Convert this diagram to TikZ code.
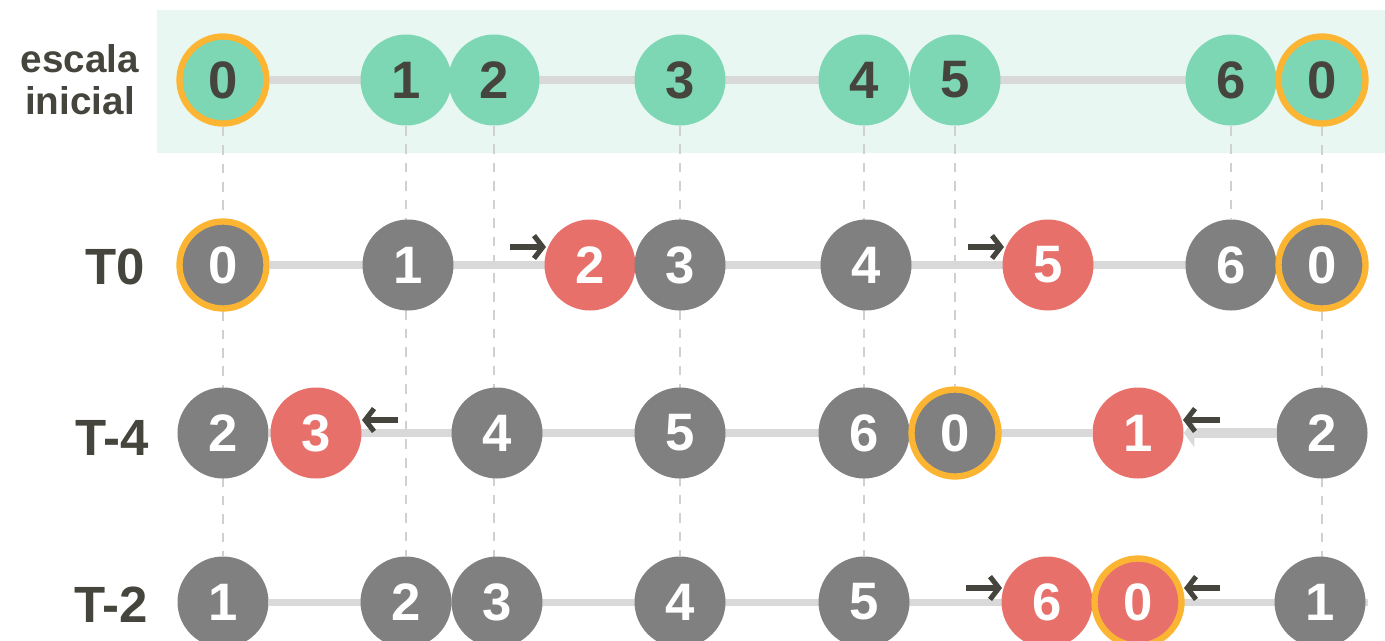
\documentclass[tikz,border=0pt]{standalone}
\usepackage{fontspec}
\setmainfont{Liberation Sans}
\usetikzlibrary{backgrounds,arrows.meta,calc}
\definecolor{mint}{HTML}{7DD6B4}
\definecolor{mintbg}{HTML}{E8F7F1}
\definecolor{grayc}{HTML}{808080}
\definecolor{redc}{HTML}{E8706A}
\definecolor{ringc}{HTML}{FBB532}
\definecolor{linec}{HTML}{D9D9D9}
\definecolor{dashc}{HTML}{D0D0D0}
\definecolor{darkt}{HTML}{45453D}
\begin{document}
\begin{tikzpicture}[x=0.02cm,y=-0.02cm,
  dot/.style={circle, minimum size=1.82cm, inner sep=0pt, font=\fontsize{30}{30}\selectfont\bfseries, text=white},
  mintdot/.style={dot, fill=mint, text=darkt},
  graydot/.style={dot, fill=grayc},
  reddot/.style={dot, fill=redc},
  ring/.style={draw=ringc, line width=3.6pt, minimum size=1.74cm},
  track/.style={draw=linec, line width=4pt},
  thicktrack/.style={draw=linec, line width=6.2pt, -{Triangle[length=6pt,width=16pt]}},
  guide/.style={draw=dashc, line width=1.2pt, dash pattern=on 5.5pt off 5pt},
  arr/.style={draw=darkt, line width=2.9pt, -{Straight Barb[length=5pt,width=13pt]}},
  rowlab/.style={font=\fontsize{29}{29}\selectfont\bfseries, text=darkt, anchor=east},
  toplab/.style={align=center, font=\fontsize{22}{24}\selectfont\bfseries, text=darkt}]
\useasboundingbox (0,0) rectangle (1385,640);
\clip (0,0) rectangle (1385,640);

% labels
\node[toplab] (lab0) at (80,80) {escala\\inicial};
\node[rowlab] (lab1) at (151,267) {T0};
\node[rowlab] (lab2) at (155,438) {T-4};
\node[rowlab] (lab3) at (154,605) {T-2};

% row 0
\node[mintdot, ring] (a0) at (223,80) {0};
\node[mintdot] (a1) at (406,80) {1};
\node[mintdot] (a2) at (494,80) {2};
\node[mintdot] (a3) at (680,80) {3};
\node[mintdot] (a4) at (864,80) {4};
\node[mintdot] (a5) at (955,80) {5};
\node[mintdot] (a6) at (1231,80) {6};
\node[mintdot, ring] (a7) at (1322,80) {0};

% row 1
\node[graydot, ring] (b0) at (223,265) {0};
\node[graydot] (b1) at (408,265) {1};
\node[reddot] (b2) at (590,265) {2};
\node[graydot] (b3) at (680,265) {3};
\node[graydot] (b4) at (866,265) {4};
\node[reddot] (b5) at (1048,265) {5};
\node[graydot] (b6) at (1231,265) {6};
\node[graydot, ring] (b7) at (1322,265) {0};

% row 2
\node[graydot] (c0) at (223,433) {2};
\node[reddot] (c1) at (316,433) {3};
\node[graydot] (c2) at (497,433) {4};
\node[graydot] (c3) at (680,433) {5};
\node[graydot] (c4) at (864,433) {6};
\node[graydot, ring] (c5) at (955,433) {0};
\node[reddot] (c6) at (1138,433) {1};
\node[graydot] (c7) at (1322,433) {2};

% row 3
\node[graydot] (d0) at (223,602) {1};
\node[graydot] (d1) at (406,602) {2};
\node[graydot] (d2) at (497,602) {3};
\node[graydot] (d3) at (680,602) {4};
\node[graydot] (d4) at (864,602) {5};
\node[reddot] (d5) at (1047,602) {6};
\node[reddot, ring] (d6) at (1138,602) {0};
\node[graydot] (d7) at (1320,602) {1};
\coordinate (dend) at (1368,602);

% arrows
\coordinate (p1s) at ($(b2)+(-80,-18)$); \coordinate (p1e) at ($(b2)+(-44,-18)$);
\coordinate (p2s) at ($(b5)+(-80,-18)$); \coordinate (p2e) at ($(b5)+(-44,-18)$);
\coordinate (p3s) at ($(c1)+(82,-13)$);  \coordinate (p3e) at ($(c1)+(46,-13)$);
\coordinate (p4s) at ($(c6)+(82,-13)$);  \coordinate (p4e) at ($(c6)+(45,-13)$);
\coordinate (p5s) at ($(d5)+(-81,-14)$); \coordinate (p5e) at ($(d5)+(-45,-14)$);
\coordinate (p6s) at ($(d6)+(82,-14)$);  \coordinate (p6e) at ($(d6)+(46,-14)$);
\draw[arr] (p1s) -- (p1e);
\draw[arr] (p2s) -- (p2e);
\draw[arr] (p3s) -- (p3e);
\draw[arr] (p4s) -- (p4e);
\draw[arr] (p5s) -- (p5e);
\draw[arr] (p6s) -- (p6e);

\begin{scope}[on background layer]
  \fill[mintbg] (157,10) rectangle (1385,153);
  \draw[guide] (a0) -- (d0);
  \draw[guide] (a1) -- (d1);
  \draw[guide] (a2) -- (a2 |- d2);
  \draw[guide] (a3) -- (d3);
  \draw[guide] (a4) -- (d4);
  \draw[guide] (a5) -- (c5);
  \draw[guide] (a6) -- (b6);
  \draw[guide] (a7) -- (a7 |- d7);
  \draw[track] (a0) -- (a7);
  \draw[track] (b0) -- (b7);
  \draw[track] (c0) -- (c6);
  \draw[thicktrack] (c7) -- (c6.east);
  \draw[track] (d0) -- (dend);
\end{scope}
\end{tikzpicture}
\end{document}
